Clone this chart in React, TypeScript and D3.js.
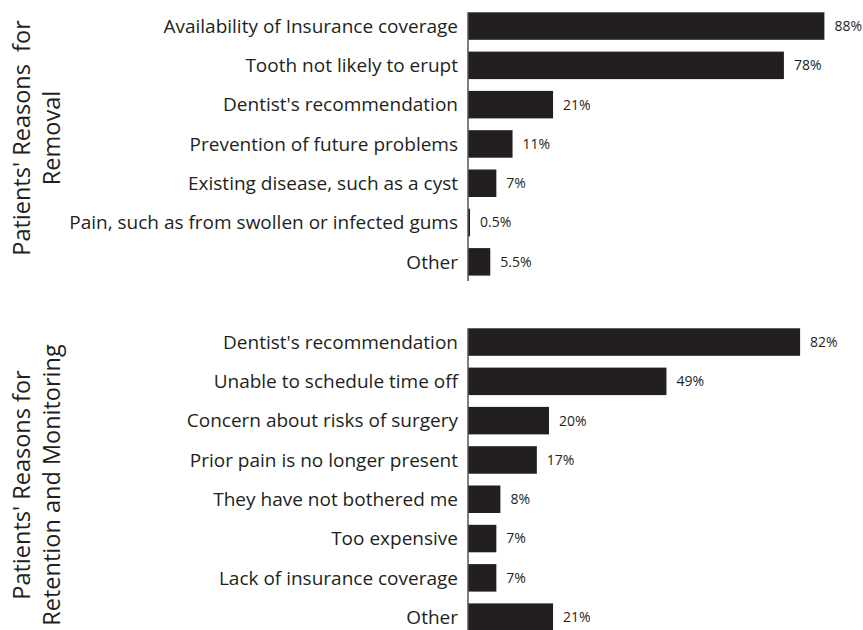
import React from "react";
import * as d3 from "d3";

const removalCategories = [
  "Availability of Insurance coverage",
  "Tooth not likely to erupt",
  "Dentist's recommendation",
  "Prevention of future problems",
  "Existing disease, such as a cyst",
  "Pain, such as from swollen or infected gums",
  "Other",
];
const removalValues = [88, 78, 21, 11, 7, 0.5, 5.5];

const retentionCategories = [
  "Dentist's recommendation",
  "Unable to schedule time off",
  "Concern about risks of surgery",
  "Prior pain is no longer present",
  "They have not bothered me",
  "Too expensive",
  "Lack of insurance coverage",
  "Other",
];
const retentionValues = [82, 49, 20, 17, 8, 7, 7, 21];

const removalTitle = ["Patients' Reasons  for", "Removal"];
const retentionTitle = ["Patients' Reasons for", "Retention and Monitoring"];

const W = 863;
const H = 630;
const AXIS_X = 468;
const STEP = 39.3;
const BAR_H = 27.5;
const GAP = STEP - BAR_H;
const INK = "#231f20";
const FONT = "'Open Sans', 'Noto Sans', sans-serif";

const x = d3.scaleLinear().domain([0, 100]).range([AXIS_X, AXIS_X + 405]);

function Panel({
  categories,
  values,
  top,
  axisBottom,
  title,
  titleCenter,
}: {
  categories: string[];
  values: number[];
  top: number;
  axisBottom: number;
  title: string[];
  titleCenter: number;
}) {
  const n = categories.length;
  const y = d3
    .scaleBand<string>()
    .domain(categories)
    .range([top - GAP / 2, top - GAP / 2 + n * STEP])
    .paddingInner(GAP / STEP)
    .paddingOuter(GAP / STEP / 2);
  return (
    <g>
      {categories.map((c, i) => {
        const y0 = y(c) as number;
        const cy = y0 + y.bandwidth() / 2;
        return (
          <g key={c}>
            <rect
              x={x(0)}
              y={y0}
              width={x(values[i]) - x(0)}
              height={y.bandwidth()}
              fill={INK}
            />
            <text
              x={AXIS_X - 10}
              y={cy}
              dy="0.35em"
              textAnchor="end"
              fontSize={19}
              fill={INK}
              fontFamily={FONT}
            >
              {c}
            </text>
            <text
              x={x(values[i]) + 10}
              y={cy}
              dy="0.35em"
              fontSize={14}
              fill={INK}
              fontFamily={FONT}
            >
              {`${values[i]}%`}
            </text>
          </g>
        );
      })}
      <line
        x1={AXIS_X}
        x2={AXIS_X}
        y1={top}
        y2={axisBottom}
        stroke="#555"
        strokeWidth={1.5}
      />
      {title.map((t, i) => (
        <text
          key={t}
          transform={`translate(${30 + i * 30},${titleCenter}) rotate(-90)`}
          textAnchor="middle"
          fontSize={23.5}
          fill={INK}
          fontFamily={FONT}
          style={{ whiteSpace: "pre" }}
        >
          {t}
        </text>
      ))}
    </g>
  );
}

export default function App() {
  return (
    <svg
      width={W}
      height={H}
      style={{ position: "absolute", left: 0, top: 0, background: "#fff" }}
    >
      <Panel
        categories={removalCategories}
        values={removalValues}
        top={12.3}
        axisBottom={281}
        title={removalTitle}
        titleCenter={138}
      />
      <Panel
        categories={retentionCategories}
        values={retentionValues}
        top={328.3}
        axisBottom={632}
        title={retentionTitle}
        titleCenter={485}
      />
    </svg>
  );
}
